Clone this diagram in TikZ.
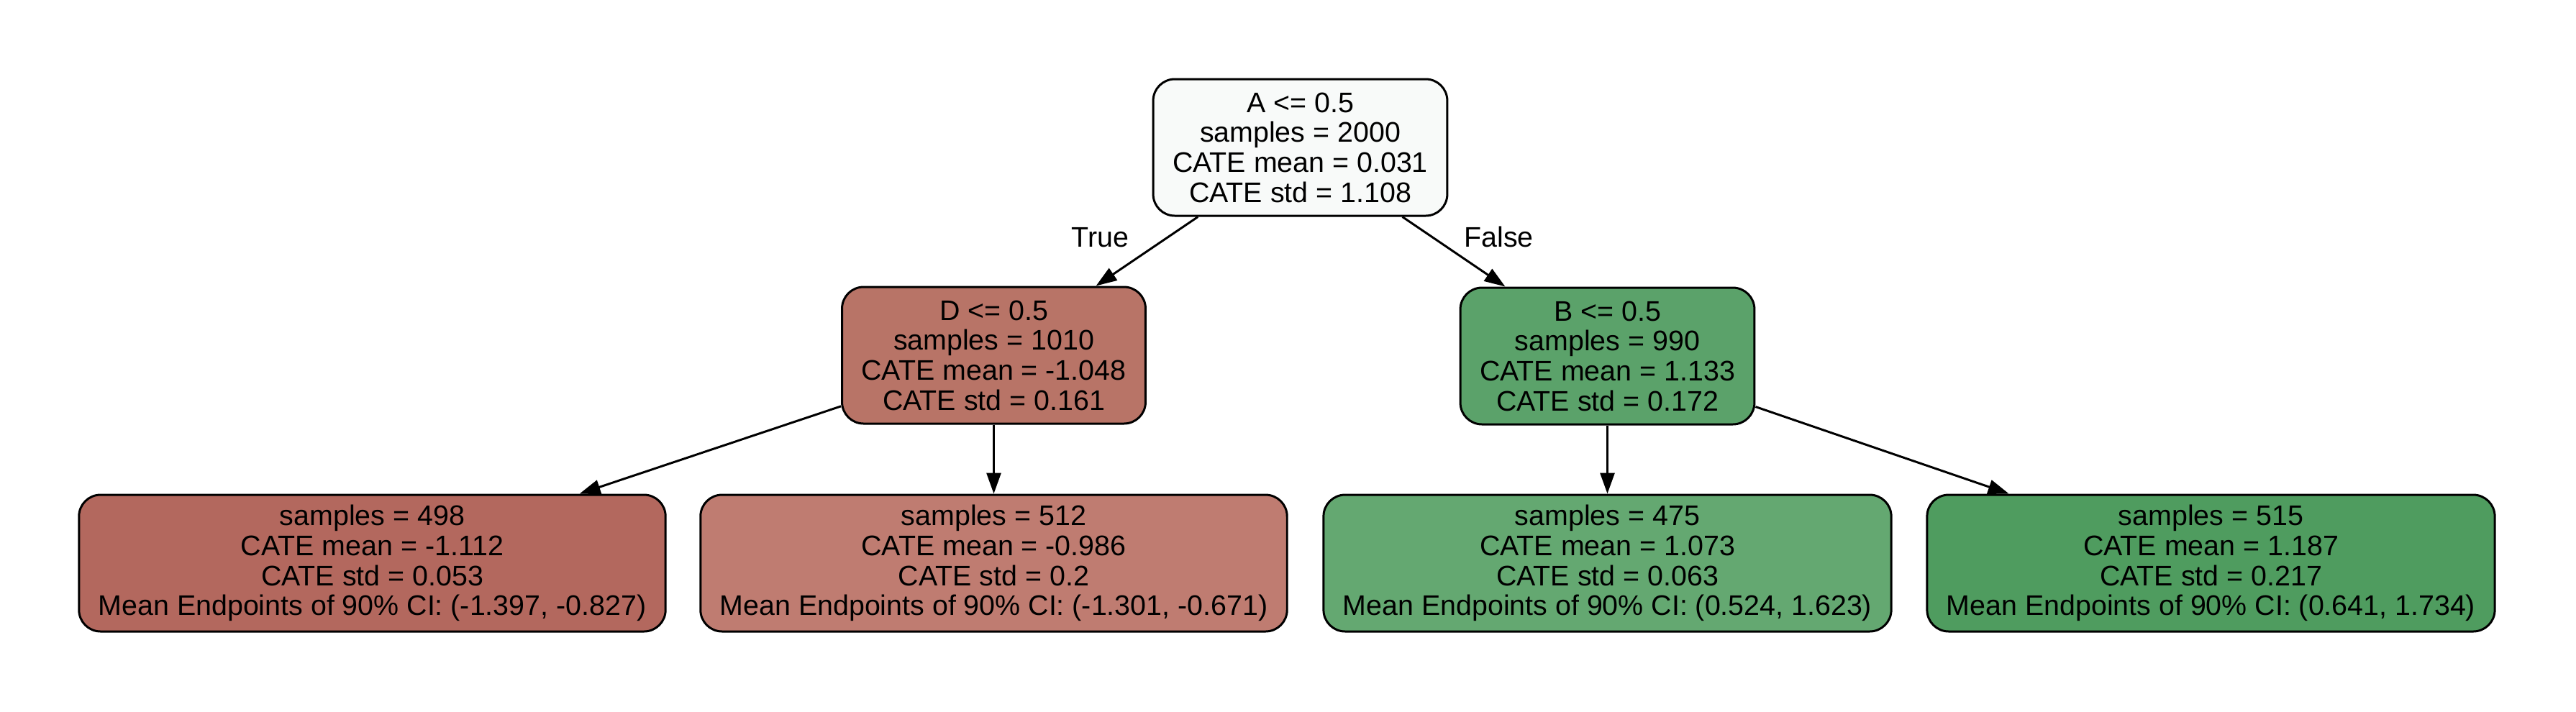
\documentclass[tikz,border=0pt]{standalone}
\usepackage{fontspec}
\setmainfont{Liberation Sans}
\usetikzlibrary{arrows.meta}

\definecolor{rootfill}{HTML}{F8FAF9}
\definecolor{dfill}{HTML}{B87467}
\definecolor{bfill}{HTML}{5BA26A}
\definecolor{dlfill}{HTML}{B3685E}
\definecolor{drfill}{HTML}{BF7C71}
\definecolor{blfill}{HTML}{64A871}
\definecolor{brfill}{HTML}{4F9C5F}

\tikzset{
  treenode/.style={draw, line width=0.85pt, rounded corners=0.3cm, align=center,
    minimum height=1.9cm, inner xsep=0.27cm, inner ysep=0pt,
    font=\fontsize{11.2pt}{11.86pt}\selectfont},
  treeedge/.style={line width=0.85pt, -{Triangle[length=0.29cm,width=0.2cm]}},
  edgelabel/.style={inner sep=0pt, font=\fontsize{11.2pt}{11.86pt}\selectfont},
}

\begin{document}
\begin{tikzpicture}
  \useasboundingbox (0,0) rectangle (35.81,-9.89);
  \node[treenode, fill=rootfill] (root) at (18.075,-2.05) {
    A <= 0.5\\samples = 2000\\CATE mean = 0.031\\CATE std = 1.108};
  \node[treenode, fill=dfill] (d) at (13.815,-4.94) {
    D <= 0.5\\samples = 1010\\CATE mean = -1.048\\CATE std = 0.161};
  \node[treenode, fill=bfill] (b) at (22.345,-4.95) {
    B <= 0.5\\samples = 990\\CATE mean = 1.133\\CATE std = 0.172};
  \node[treenode, fill=dlfill] (dl) at (5.175,-7.83) {
    samples = 498\\CATE mean = -1.112\\CATE std = 0.053\\
    Mean Endpoints of 90\% CI: (-1.397, -0.827)};
  \node[treenode, fill=drfill] (dr) at (13.815,-7.83) {
    samples = 512\\CATE mean = -0.986\\CATE std = 0.2\\
    Mean Endpoints of 90\% CI: (-1.301, -0.671)};
  \node[treenode, fill=blfill] (bl) at (22.345,-7.83) {
    samples = 475\\CATE mean = 1.073\\CATE std = 0.063\\
    Mean Endpoints of 90\% CI: (0.524, 1.623)};
  \node[treenode, fill=brfill] (br) at (30.735,-7.83) {
    samples = 515\\CATE mean = 1.187\\CATE std = 0.217\\
    Mean Endpoints of 90\% CI: (0.641, 1.734)};

  \draw[treeedge] (root) -- node[edgelabel, pos=0.3, left=0.52cm] (tl) {True} (d);
  \draw[treeedge] (root) -- node[edgelabel, pos=0.29, right=0.43cm] (fl) {False} (b);
  \draw[treeedge] (d) -- (dl);
  \draw[treeedge] (d) -- (dr);
  \draw[treeedge] (b) -- (bl);
  \draw[treeedge] (b) -- (br);
\end{tikzpicture}
\end{document}
